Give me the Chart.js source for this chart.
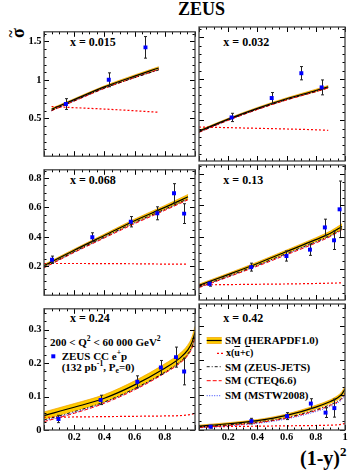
<!DOCTYPE html>
<html><head><meta charset="utf-8">
<script src="https://cdn.jsdelivr.net/npm/chart.js@4.4.1/dist/chart.umd.min.js"></script>
<style>
body{margin:0;width:359px;height:471px;position:relative;background:#fff;overflow:hidden;font-family:"Liberation Serif",serif;font-weight:bold;color:#000}
canvas{position:absolute}
.t{position:absolute;white-space:nowrap;line-height:1}
sup,sub{font-size:0.7em;line-height:0}
</style></head><body>
<div class="t" style="left:178px;top:0px;font-size:18px">ZEUS</div>
<div class="t" style="left:17.5px;top:32.5px;width:10px;height:18px;transform:translate(-50%,-50%) rotate(-90deg)"><span style="position:absolute;left:0;top:0;font-size:18px;line-height:1">σ</span><span style="position:absolute;left:0.5px;top:-4px;font-size:14px;line-height:1">~</span></div>
<div class="t" style="left:300px;top:447.5px;font-size:20px">(1-y)<sup style="font-size:13px;vertical-align:9px">2</sup></div>
<div class="t" style="left:70px;top:35.6px;font-size:12px">x = 0.015</div>
<div class="t" style="left:223.3px;top:35.6px;font-size:12px">x = 0.032</div>
<div class="t" style="left:70px;top:174.3px;font-size:12px">x = 0.068</div>
<div class="t" style="left:223.3px;top:174.3px;font-size:12px">x = 0.13</div>
<div class="t" style="left:70px;top:311.6px;font-size:12px">x = 0.24</div>
<div class="t" style="left:223.3px;top:311.6px;font-size:12px">x = 0.42</div>
<div class="t" style="left:50px;top:336.8px;font-size:11px">200 &lt; Q<sup style="vertical-align:5px">2</sup> &lt; 60 000 GeV<sup style="vertical-align:5px">2</sup></div>
<div class="t" style="left:61.7px;top:350.8px;font-size:11px">ZEUS CC e<sup style="vertical-align:5px">+</sup>p</div>
<div class="t" style="left:61.7px;top:361.8px;font-size:11px">(132 pb<sup style="vertical-align:5px">-1</sup>, P<sub style="vertical-align:-2px">e</sub>=0)</div>
<div class="t" style="left:225px;top:335.1px;font-size:11px">SM (HERAPDF1.0)</div>
<div class="t" style="left:226px;top:348.1px;font-size:10px">x(<span style="text-decoration:overline">u</span>+<span style="text-decoration:overline">c</span>)</div>
<div class="t" style="left:225px;top:361.5px;font-size:11px">SM (ZEUS-JETS)</div>
<div class="t" style="left:225px;top:375.1px;font-size:11px">SM (CTEQ6.6)</div>
<div class="t" style="left:225px;top:390.1px;font-size:11px">SM (MSTW2008)</div>
<script>
// ---- data ----
const panelTitles = ['x = 0.015','x = 0.032','x = 0.068','x = 0.13','x = 0.24','x = 0.42'];
const xTicksLeft = [0.2, 0.4, 0.6, 0.8];
const xTicksRight = [0.2, 0.4, 0.6, 0.8, 1];
const yTicksTop = [0.5, 1, 1.5];
const yTicksMid = [0.2, 0.4, 0.6, 0.8];
const yTicksBot = [0, 0.1, 0.2, 0.3];

// measured points: (1-y)^2, sigma-tilde, error
const d1X = [0.145, 0.429, 0.672];
const d1Y = [0.687, 1.002, 1.423];
const d1E = [0.07, 0.09, 0.14];
const d2X = [0.223, 0.498, 0.701, 0.840];
const d2Y = [0.535, 0.769, 1.068, 0.897];
const d2E = [0.05, 0.066, 0.08, 0.09];
const d3X = [0.053, 0.32, 0.575, 0.75, 0.861, 0.928];
const d3Y = [0.245, 0.398, 0.503, 0.56, 0.696, 0.558];
const d3E = [0.025, 0.03, 0.035, 0.044, 0.065, 0.067];
const d4X = [0.072, 0.357, 0.599, 0.76, 0.862, 0.925, 0.963];
const d4Y = [0.107, 0.212, 0.282, 0.322, 0.462, 0.381, 0.576];
const d4E = [0.015, 0.025, 0.032, 0.036, 0.052, 0.058, 0.178];
const d5X = [0.096, 0.375, 0.618, 0.774, 0.874, 0.928];
const d5Y = [0.033, 0.09, 0.144, 0.187, 0.218, 0.175];
const d5E = [0.011, 0.014, 0.018, 0.021, 0.03, 0.04];
const d6X = [0.079, 0.359, 0.603, 0.766, 0.867, 0.927];
const d6Y = [0.0095, 0.0256, 0.040, 0.076, 0.050, 0.063];
const d6E = [0.004, 0.008, 0.01, 0.014, 0.014, 0.026];

// predictions
const g1 = [0.05, 0.2, 0.4, 0.6, 0.76];
const sm1 = [0.62, 0.745, 0.91, 1.05, 1.155];
const w1 = [0.012, 0.012, 0.013, 0.015, 0.017];
const ub1 = [0.655, 0.64, 0.622, 0.60, 0.58];
const jets1 = [0.605, 0.73, 0.895, 1.03, 1.13];
const cteq1 = [0.60, 0.725, 0.89, 1.03, 1.135];
const mstw1 = [0.60, 0.728, 0.893, 1.032, 1.137];

const g2 = [0, 0.2, 0.4, 0.6, 0.8, 0.885];
const sm2 = [0.37, 0.515, 0.645, 0.76, 0.86, 0.905];
const w2 = [0.01, 0.01, 0.011, 0.012, 0.014, 0.015];
const ub2 = [0.42, 0.412, 0.404, 0.396, 0.386, 0.38];
const jets2 = [0.36, 0.505, 0.635, 0.75, 0.85, 0.895];
const cteq2 = [0.355, 0.50, 0.63, 0.745, 0.845, 0.89];
const mstw2 = [0.357, 0.502, 0.632, 0.748, 0.848, 0.893];

const g3 = [0, 0.2, 0.4, 0.6, 0.8, 0.954];
const sm3 = [0.205, 0.31, 0.41, 0.51, 0.60, 0.672];
const w3 = [0.008, 0.008, 0.009, 0.011, 0.013, 0.016];
const ub3 = [0.22, 0.22, 0.219, 0.218, 0.216, 0.215];
const jets3 = [0.195, 0.30, 0.40, 0.498, 0.588, 0.66];
const cteq3 = [0.19, 0.295, 0.393, 0.49, 0.58, 0.652];
const mstw3 = [0.192, 0.297, 0.396, 0.494, 0.584, 0.656];

const g4 = [0, 0.2, 0.4, 0.6, 0.8, 0.9, 0.98];
const sm4 = [0.097, 0.165, 0.235, 0.31, 0.385, 0.425, 0.468];
const w4 = [0.008, 0.008, 0.009, 0.01, 0.012, 0.014, 0.017];
const ub4 = [0.10, 0.102, 0.104, 0.106, 0.109, 0.111, 0.113];
const jets4 = [0.088, 0.155, 0.225, 0.298, 0.372, 0.412, 0.455];
const cteq4 = [0.083, 0.15, 0.218, 0.29, 0.364, 0.405, 0.448];
const mstw4 = [0.085, 0.152, 0.221, 0.294, 0.368, 0.408, 0.45];

const g5 = [0, 0.2, 0.4, 0.6, 0.8, 0.9, 0.95, 0.98, 1.0];
const sm5 = [0.043, 0.068, 0.095, 0.135, 0.185, 0.215, 0.238, 0.262, 0.292];
const w5 = [0.011, 0.011, 0.011, 0.012, 0.013, 0.014, 0.015, 0.016, 0.018];
const ub5 = [0.038, 0.039, 0.040, 0.041, 0.042, 0.043, 0.045, 0.047, 0.05];
const jets5 = [0.03, 0.055, 0.084, 0.124, 0.173, 0.204, 0.226, 0.25, 0.28];
const cteq5 = [0.025, 0.05, 0.08, 0.12, 0.17, 0.2, 0.222, 0.245, 0.275];
const mstw5 = [0.027, 0.052, 0.082, 0.122, 0.171, 0.202, 0.224, 0.247, 0.277];

const g6 = [0, 0.2, 0.4, 0.6, 0.8, 0.9, 0.95, 0.98, 1.0];
const sm6 = [0.011, 0.018, 0.027, 0.042, 0.066, 0.082, 0.093, 0.104, 0.117];
const w6 = [0.003, 0.003, 0.003, 0.004, 0.005, 0.005, 0.006, 0.007, 0.008];
const ub6 = [0.009, 0.010, 0.011, 0.012, 0.013, 0.014, 0.015, 0.017, 0.019];
const jets6 = [0.009, 0.015, 0.023, 0.036, 0.058, 0.073, 0.083, 0.093, 0.106];
const cteq6 = [0.007, 0.013, 0.021, 0.034, 0.056, 0.071, 0.081, 0.091, 0.104];
const mstw6 = [0.006, 0.012, 0.019, 0.032, 0.053, 0.068, 0.078, 0.088, 0.1];

// ---- layout ----
Chart.defaults.font.family = '"Liberation Serif", serif';
Chart.defaults.font.weight = 'bold';
Chart.defaults.font.size = 10.5;
Chart.defaults.color = '#000';

const rows = [
  {top:23, h:142, padT:2, padB:2, xH:0, min:0.01, max:1.625, maj:0.5, minr:0.1, yt:yTicksTop},
  {top:161, h:143, padT:2, padB:2, xH:0, min:0.005, max:0.855, maj:0.2, minr:0.05, yt:yTicksMid},
  {top:300, h:146, padT:2, padB:0, xH:16, min:0, max:0.3625, maj:0.1, minr:0.025, yt:yTicksBot}
];
const cols = [
  {left:0, w:199, yW:44, padL:0, padR:2, xt:xTicksLeft},
  {left:195, w:154, yW:0, padL:2, padR:3, xt:xTicksRight}
];

const panels = [
  {r:0,c:0,g:g1,sm:sm1,w:w1,ub:ub1,jets:jets1,cteq:cteq1,mstw:mstw1,dx:d1X,dy:d1Y,de:d1E},
  {r:0,c:1,g:g2,sm:sm2,w:w2,ub:ub2,jets:jets2,cteq:cteq2,mstw:mstw2,dx:d2X,dy:d2Y,de:d2E},
  {r:1,c:0,g:g3,sm:sm3,w:w3,ub:ub3,jets:jets3,cteq:cteq3,mstw:mstw3,dx:d3X,dy:d3Y,de:d3E},
  {r:1,c:1,g:g4,sm:sm4,w:w4,ub:ub4,jets:jets4,cteq:cteq4,mstw:mstw4,dx:d4X,dy:d4Y,de:d4E},
  {r:2,c:0,g:g5,sm:sm5,w:w5,ub:ub5,jets:jets5,cteq:cteq5,mstw:mstw5,dx:d5X,dy:d5Y,de:d5E},
  {r:2,c:1,g:g6,sm:sm6,w:w6,ub:ub6,jets:jets6,cteq:cteq6,mstw:mstw6,dx:d6X,dy:d6Y,de:d6E,legend:true}
];

const pts = (xs, ys) => xs.map((x, i) => ({x, y: ys[i]}));

function makePanel(p) {
  const R = rows[p.r], C = cols[p.c];
  const cv = document.createElement('canvas');
  cv.width = C.w; cv.height = R.h;
  cv.style.left = C.left + 'px'; cv.style.top = R.top + 'px';
  cv.style.width = C.w + 'px'; cv.style.height = R.h + 'px';
  document.body.appendChild(cv);

  const lineBase = {pointRadius:0, fill:false, cubicInterpolationMode:'monotone'};
  const datasets = [
    {data: pts(p.dx, p.dy), showLine:false, pointStyle:'rect', pointRadius:2.8,
     pointBackgroundColor:'#0000ff', pointBorderColor:'#0000ff', pointBorderWidth:0, order:0},
    Object.assign({data: pts(p.g, p.sm), borderColor:'#000', borderWidth:1.2, order:1}, lineBase),
    Object.assign({data: pts(p.g, p.jets), borderColor:'#000', borderWidth:0.9, borderDash:[3,2,1,2], order:2}, lineBase),
    Object.assign({data: pts(p.g, p.cteq), borderColor:'#ff0000', borderWidth:1, borderDash:[4,2], order:2}, lineBase),
    Object.assign({data: pts(p.g, p.mstw), borderColor:'#3344ff', borderWidth:1, borderDash:[1,1.5], order:2}, lineBase),
    Object.assign({data: pts(p.g, p.ub), borderColor:'#ff0000', borderWidth:1.2, borderDash:[2,2], order:3}, lineBase),
    Object.assign({data: pts(p.g, p.sm.map((v,i)=>v - p.w[i])), borderColor:'#f0a000', borderWidth:0.7, order:6}, lineBase),
    Object.assign({}, lineBase, {data: pts(p.g, p.sm.map((v,i)=>v + p.w[i])), borderColor:'#f0a000', borderWidth:0.7, order:5, fill:'-1', backgroundColor:'#ffcc00'})
  ];

  const errBars = {
    id:'errBars',
    beforeDatasetDraw(chart, args) {
      if (args.index !== 0) return;
      const {ctx, scales:{x, y}} = chart;
      ctx.save(); ctx.strokeStyle = '#222'; ctx.lineWidth = 1;
      p.dx.forEach((xv, i) => {
        const px = Math.round(x.getPixelForValue(xv)) + 0.5;
        const t = y.getPixelForValue(p.dy[i] + p.de[i]);
        const b = y.getPixelForValue(p.dy[i] - p.de[i]);
        ctx.beginPath();
        ctx.moveTo(px, t); ctx.lineTo(px, b);
        ctx.moveTo(px - 1.5, t); ctx.lineTo(px + 1.5, t);
        ctx.moveTo(px - 1.5, b); ctx.lineTo(px + 1.5, b);
        ctx.stroke();
      });
      ctx.restore();
    }
  };

  const frameTicks = {
    id:'frameTicks',
    afterDraw(chart) {
      const {ctx, chartArea:a, scales:{x, y}} = chart;
      ctx.save(); ctx.strokeStyle = '#000'; ctx.lineWidth = 1;
      const tick = (axis, isX, step, len) => {
        const n0 = Math.ceil(axis.min / step - 1e-6), n1 = Math.floor(axis.max / step + 1e-6);
        for (let n = n0; n <= n1; n++) {
          const pp = Math.round(axis.getPixelForValue(n * step)) + 0.5;
          ctx.beginPath();
          if (isX) { ctx.moveTo(pp, a.bottom); ctx.lineTo(pp, a.bottom - len); ctx.moveTo(pp, a.top); ctx.lineTo(pp, a.top + len); }
          else { ctx.moveTo(a.left, pp); ctx.lineTo(a.left + len, pp); ctx.moveTo(a.right, pp); ctx.lineTo(a.right - len, pp); }
          ctx.stroke();
        }
      };
      tick(x, true, 0.05, 2.5); tick(x, true, 0.2, 5);
      tick(y, false, R.minr, 2.5); tick(y, false, R.maj, 5);
      ctx.strokeStyle = '#444'; ctx.lineWidth = 1.3;
      ctx.strokeRect(a.left, a.top, a.right - a.left, a.bottom - a.top);
      if (p.legend) {
        const ox = C.left, oy = R.top;
        const seg = (x0, x1, yy, col, dash, lw) => {
          ctx.beginPath(); ctx.setLineDash(dash); ctx.strokeStyle = col; ctx.lineWidth = lw;
          ctx.moveTo(x0 - ox, yy - oy); ctx.lineTo(x1 - ox, yy - oy); ctx.stroke();
        };
        ctx.fillStyle = '#ffcc00';
        ctx.fillRect(206.7 - ox, 337.5 - oy, 15, 6);
        seg(206.7, 221.7, 337.5, '#f0a000', [], 0.7);
        seg(206.7, 221.7, 343.5, '#f0a000', [], 0.7);
        seg(206.7, 221.7, 340.5, '#000', [], 1.2);
        seg(217, 223, 353.3, '#ff0000', [2,2], 1.2);
        seg(206.7, 221.7, 366.7, '#000', [3,2,1,2], 0.9);
        seg(206.7, 221.7, 380.7, '#ff0000', [4,2], 1);
        seg(206.7, 221.7, 395.7, '#3344ff', [1,1.5], 1);
        ctx.setLineDash([]);
      }
      if (p.r === 2 && p.c === 0) {
        ctx.fillStyle = '#0000ff';
        ctx.fillRect(53.3 - C.left - 2, 356.3 - R.top - 2, 4, 4);
      }
      ctx.restore();
    }
  };

  new Chart(cv, {
    type:'line',
    data:{datasets},
    options:{
      responsive:false, animation:false, devicePixelRatio:1,
      layout:{padding:{top:R.padT, bottom:R.padB, left:C.padL, right:C.padR}},
      plugins:{legend:{display:false}, tooltip:{enabled:false}},
      scales:{
        x:{type:'linear', min:0, max:1, display:R.xH > 0,
           afterBuildTicks(s){ s.ticks = C.xt.map(v => ({value:v})); },
           afterFit(s){ s.height = R.xH; },
           ticks:{autoSkip:false, maxRotation:0, padding:1, callback:v => String(v)},
           grid:{display:false, drawTicks:false}, border:{display:false}},
        y:{type:'linear', min:R.min, max:R.max, display:C.yW > 0,
           afterBuildTicks(s){ s.ticks = R.yt.map(v => ({value:v})); },
           afterFit(s){ s.width = C.yW; },
           ticks:{autoSkip:false, padding:2.5, callback:v => String(v)},
           grid:{display:false, drawTicks:false}, border:{display:false}}
      }
    },
    plugins:[errBars, frameTicks]
  });
}
panels.forEach(makePanel);
</script>
</body></html>
